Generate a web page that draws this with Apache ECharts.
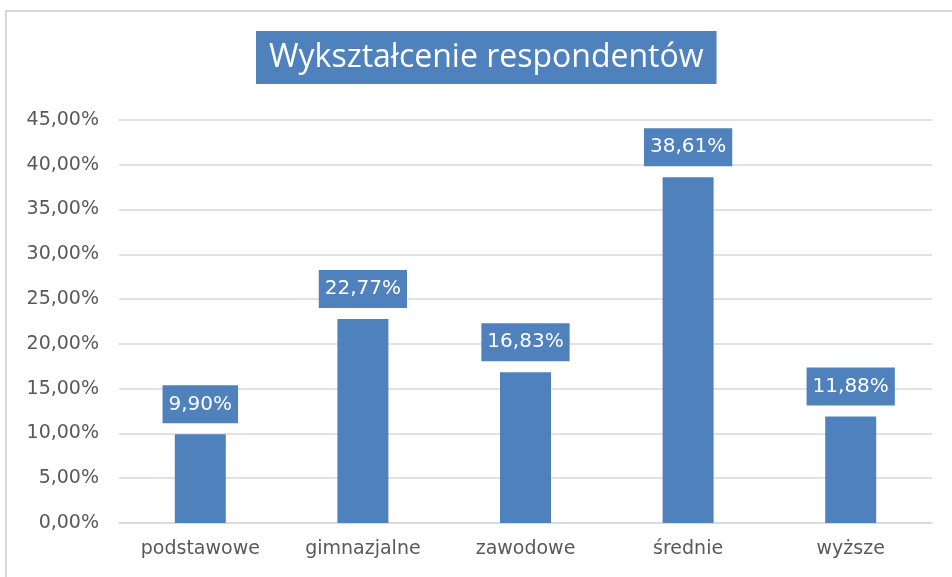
<!DOCTYPE html>
<html>
<head>
<meta charset="utf-8">
<script src="https://cdn.jsdelivr.net/npm/echarts@6/dist/echarts.min.js"></script>
<style>html,body{margin:0;padding:0;background:#fff;}#c{width:952px;height:577px;}</style>
</head>
<body>
<div id="c"></div>
<script>
const categories = ['podstawowe', 'gimnazjalne', 'zawodowe', 'średnie', 'wyższe'];
const values = [9.90, 22.77, 16.83, 38.61, 11.88];
const yTicks = [0, 5, 10, 15, 20, 25, 30, 35, 40, 45];
const titleText = 'Wykształcenie respondentów';

const fmt = v => v.toFixed(2).replace('.', ',') + '%';
const chart = echarts.init(document.getElementById('c'));
chart.setOption({
  animation: false,
  backgroundColor: '#fff',
  graphic: [{
    type: 'rect', shape: {x: 6, y: 11, width: 960, height: 580},
    style: {fill: 'none', stroke: '#d9d9d9', lineWidth: 2}, silent: true, z: -1
  }],
  title: {
    text: titleText, left: 256, top: 31,
    backgroundColor: '#4F81BD', padding: [0, 13, 0, 13],
    textStyle: {color: '#fff', fontFamily: 'Open Sans', fontWeight: 400, fontSize: 32, lineHeight: 53}
  },
  grid: {left: 119, right: 20, top: 120, bottom: 54},
  xAxis: {
    type: 'category', data: categories,
    axisLine: {lineStyle: {color: '#d9d9d9', width: 1.5}},
    axisTick: {show: false},
    axisLabel: {color: '#595959', fontFamily: 'DejaVu Sans', fontSize: 19, margin: 17, interval: 0}
  },
  yAxis: {
    type: 'value', min: yTicks[0], max: yTicks[yTicks.length - 1], interval: 5,
    axisLine: {show: false}, axisTick: {show: false},
    splitLine: {lineStyle: {color: '#d9d9d9', width: 1.5}},
    axisLabel: {color: '#595959', fontFamily: 'DejaVu Sans', fontSize: 19, margin: 20, formatter: v => fmt(v)}
  },
  series: [{
    type: 'bar', data: values, barWidth: 51,
    itemStyle: {color: '#4F81BD'},
    label: {
      show: true, position: 'top', distance: 11,
      formatter: p => fmt(p.value),
      color: '#fff', fontFamily: 'DejaVu Sans', fontSize: 20, lineHeight: 24,
      backgroundColor: '#4F81BD', padding: [7, 6, 7, 6]
    }
  }]
});
</script>
</body>
</html>
